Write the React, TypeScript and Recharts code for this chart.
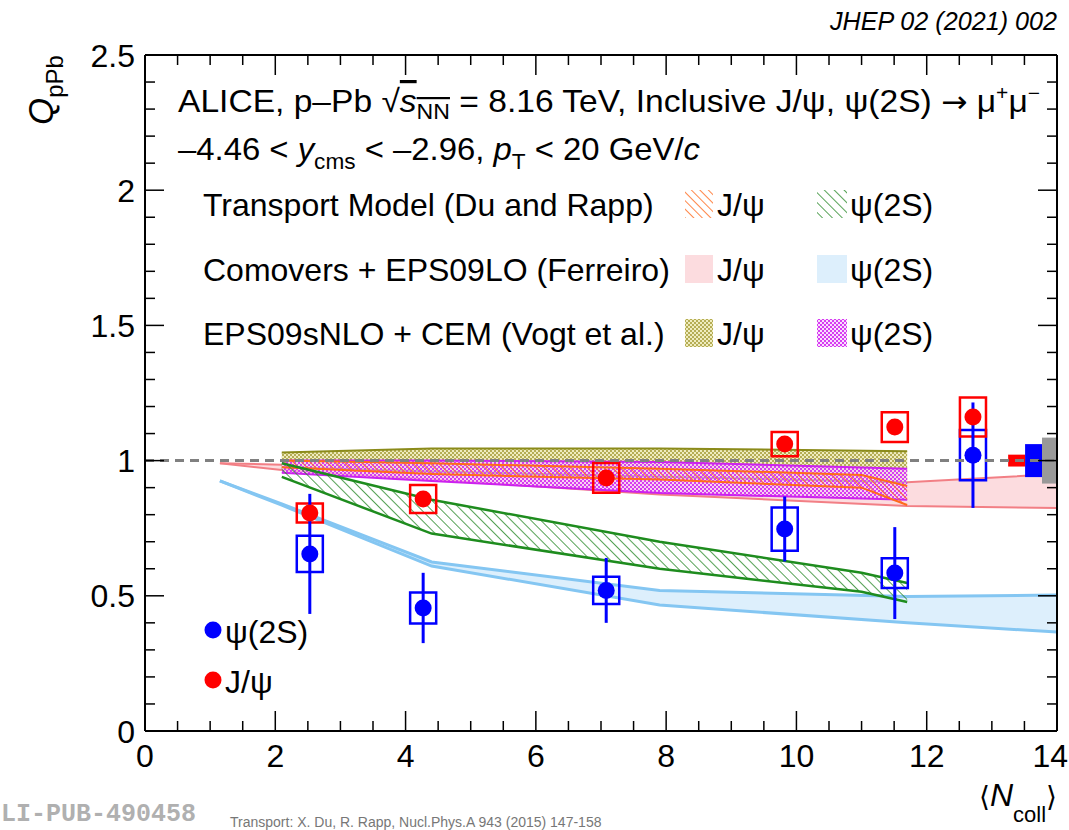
import React from 'react';
import { ComposedChart, Area, Scatter, XAxis, YAxis, ErrorBar, ReferenceArea, ReferenceLine } from 'recharts';

const FONT = '"Liberation Sans", Arial, Helvetica, sans-serif';

// measured Q_pPb vs <Ncoll>
const NCOLL = [2.53, 4.27, 7.08, 9.82, 11.51, 12.71];
const JPSI_Q = [0.806, 0.858, 0.936, 1.061, 1.124, 1.161];
const JPSI_STAT = [0.015, 0.02, 0.02, 0.025, 0.025, 0.03];
const JPSI_SYST = [0.035, 0.052, 0.055, 0.045, 0.055, 0.072];
const PSI_Q = [0.655, 0.455, 0.52, 0.747, 0.584, 1.02];
const PSI_STAT = [0.222, 0.13, 0.12, 0.12, 0.17, 0.195];
const PSI_SYST = [0.067, 0.057, 0.05, 0.08, 0.055, 0.093];
const BOX_HALF = 0.2;

// global uncertainty boxes around Q=1
const GLOBAL_X1 = [13.25, 13.51, 13.77];
const GLOBAL_X2 = [13.51, 13.77, 14];
const GLOBAL_ERR = [0.022, 0.061, 0.085];
const GLOBAL_COLORS = ['#ff0000', '#0000ff', '#999999'];

// models
const COMOV_X = [1.15, 2.1, 4.4, 7.9, 11.7, 14];
const COMOV_JPSI_HI = [0.99, 0.985, 0.97, 0.95, 0.92, 0.95];
const COMOV_JPSI_LO = [0.99, 0.965, 0.93, 0.875, 0.832, 0.825];
const COMOV_PSI_HI = [0.925, 0.84, 0.625, 0.52, 0.497, 0.503];
const COMOV_PSI_LO = [0.925, 0.835, 0.61, 0.466, 0.4, 0.366];

const TRANS_X = [2.1, 4.4, 7.9, 11.0, 11.7];
const TRANS_JPSI_HI = [1.0, 0.99, 0.97, 0.947, 0.906];
const TRANS_JPSI_LO = [0.975, 0.95, 0.93, 0.9, 0.836];
const TRANS_PSI_HI = [0.99, 0.855, 0.7, 0.585, 0.547];
const TRANS_PSI_LO = [0.94, 0.73, 0.6, 0.515, 0.477];

const VOGT_X = [2.1, 4.4, 7.9, 11.7];
const VOGT_JPSI_HI = [1.03, 1.045, 1.045, 1.035];
const VOGT_JPSI_LO = [0.975, 0.96, 0.94, 0.92];
const VOGT_PSI_HI = [1.0, 1.0, 0.995, 0.97];
const VOGT_PSI_LO = [0.955, 0.925, 0.88, 0.855];

const X_TICKS = Array.from({ length: 29 }, (_, i) => i * 0.5);
const Y_TICKS = Array.from({ length: 26 }, (_, i) => i / 10);

const band = (xs: number[], lo: number[], hi: number[]) => xs.map((x, i) => ({ x, band: [lo[i], hi[i]] }));
const points = (q: number[], stat: number[]) => NCOLL.map((x, i) => ({ x, y: q[i], stat: stat[i] }));

const isMajor = (v: number, step: number) => Math.abs(v / step - Math.round(v / step)) < 1e-6;

function BottomTick({ x, y, payload }: any) {
  const major = isMajor(payload.value, 2);
  const last = payload.value === 14;
  return (
    <g>
      <line x1={x} x2={x} y1={y} y2={y - (major ? 20 : 10)} stroke="#000" strokeWidth={1.5} />
      {major && (
        <text x={last ? x + 11 : x} y={y + 36} textAnchor={last ? 'end' : 'middle'} fontSize={32} fontFamily={FONT} fill="#000">
          {payload.value}
        </text>
      )}
    </g>
  );
}

function TopTick({ x, y, payload }: any) {
  const major = isMajor(payload.value, 2);
  return <line x1={x} x2={x} y1={y} y2={y + (major ? 20 : 10)} stroke="#000" strokeWidth={1.5} />;
}

function LeftTick({ x, y, payload }: any) {
  const major = isMajor(payload.value, 0.5);
  return (
    <g>
      <line x1={x} x2={x + (major ? 19 : 10)} y1={y} y2={y} stroke="#000" strokeWidth={1.5} />
      {major && (
        <text x={x - 10} y={y + 11.5} textAnchor="end" fontSize={32} fontFamily={FONT} fill="#000">
          {payload.value}
        </text>
      )}
    </g>
  );
}

function RightTick({ x, y, payload }: any) {
  const major = isMajor(payload.value, 0.5);
  return <line x1={x} x2={x - (major ? 19 : 10)} y1={y} y2={y} stroke="#000" strokeWidth={1.5} />;
}

const dot = (color: string) => (p: any) => <circle cx={p.cx} cy={p.cy} r={8.5} fill={color} />;

function Patterns({ suffix }: { suffix: string }) {
  return (
    <defs>
      <pattern id={`hatchGreen${suffix}`} patternUnits="userSpaceOnUse" width="7" height="7" patternTransform="rotate(-45)">
        <line x1="0" y1="0" x2="0" y2="7" stroke="#2a8a2a" strokeWidth="1.6" />
      </pattern>
      <pattern id={`hatchOrange${suffix}`} patternUnits="userSpaceOnUse" width="6" height="6" patternTransform="rotate(-45)">
        <line x1="0" y1="0" x2="0" y2="6" stroke="#ff7026" strokeWidth="1.7" />
      </pattern>
      <pattern id={`checkOlive${suffix}`} patternUnits="userSpaceOnUse" width="4" height="4">
        <rect x="0" y="0" width="4" height="4" fill="#efecbe" />
        <rect x="0" y="0" width="2" height="2" fill="#b5ad55" />
        <rect x="2" y="2" width="2" height="2" fill="#b5ad55" />
      </pattern>
      <pattern id={`checkMagenta${suffix}`} patternUnits="userSpaceOnUse" width="4" height="4">
        <rect x="0" y="0" width="4" height="4" fill="#f6c8fb" fillOpacity="0.6" />
        <rect x="0" y="0" width="2" height="2" fill="#d63cf2" />
        <rect x="2" y="2" width="2" height="2" fill="#d63cf2" />
      </pattern>
    </defs>
  );
}

function Overlay() {
  const legendRows = [
    { label: 'Transport Model (Du and Rapp)', y: 216, a: 'url(#hatchOrange-lg)', b: 'url(#hatchGreen-lg)' },
    { label: 'Comovers + EPS09LO (Ferreiro)', y: 281, a: '#fcdcdf', b: '#ddeffc' },
    { label: 'EPS09sNLO + CEM (Vogt et al.)', y: 345, a: 'url(#checkOlive-lg)', b: 'url(#checkMagenta-lg)' },
  ];
  return (
    <svg width={1069} height={830} style={{ position: 'absolute', left: 0, top: 0, pointerEvents: 'none' }} fontFamily={FONT}>
      <Patterns suffix="-lg" />
      <text x={1057} y={30} textAnchor="end" fontSize={26} fontStyle="italic" fill="#000" textLength={227} lengthAdjust="spacingAndGlyphs">
        JHEP 02 (2021) 002
      </text>
      <text transform="translate(53,125) rotate(-90)" fontSize={35} fill="#000">
        <tspan fontStyle="italic">Q</tspan>
        <tspan fontSize={24} dy={10}>pPb</tspan>
      </text>
      <text x={178} y={112} fontSize={32} fill="#000" textLength={862} lengthAdjust="spacingAndGlyphs">
        ALICE, p–Pb √<tspan fontStyle="italic" style={{ textDecoration: 'overline' }}>s</tspan>
        <tspan fontSize={22} dy={7} style={{ textDecoration: 'overline' }}>NN</tspan>
        <tspan dy={-7}> = 8.16 TeV, Inclusive J/ψ, ψ(2S) </tspan>
        <tspan fontFamily='"DejaVu Sans", sans-serif' fontSize={30}>→</tspan>
        <tspan> μ</tspan>
        <tspan fontSize={20} dy={-12}>+</tspan>
        <tspan dy={12}>μ</tspan>
        <tspan fontSize={20} dy={-12}>−</tspan>
      </text>
      <text x={178} y={160} fontSize={32} fill="#000" textLength={522} lengthAdjust="spacingAndGlyphs">
        –4.46 &lt; <tspan fontStyle="italic">y</tspan>
        <tspan fontSize={22} dy={9}>cms</tspan>
        <tspan dy={-9}> &lt; –2.96, </tspan>
        <tspan fontStyle="italic">p</tspan>
        <tspan fontSize={22} dy={9}>T</tspan>
        <tspan dy={-9}> &lt; 20 GeV/</tspan>
        <tspan fontStyle="italic">c</tspan>
      </text>
      {legendRows.map((r) => (
        <g key={r.label}>
          <text x={203} y={r.y} fontSize={32} fill="#000">{r.label}</text>
          <rect x={685} y={r.y - 26} width={28} height={28} fill={r.a} />
          <text x={717} y={r.y} fontSize={32} fill="#000">J/ψ</text>
          <rect x={817} y={r.y - 26} width={30} height={28} fill={r.b} />
          <text x={850} y={r.y} fontSize={32} fill="#000">ψ(2S)</text>
        </g>
      ))}
      <circle cx={213} cy={630} r={8.5} fill="#0000ff" />
      <text x={225} y={643} fontSize={32} fill="#000">ψ(2S)</text>
      <circle cx={213} cy={680} r={8.5} fill="#ff0000" />
      <text x={225} y={693} fontSize={32} fill="#000">J/ψ</text>
      <text x={1057} y={806} textAnchor="end" fontSize={32} fill="#000">
        <tspan fontFamily='"DejaVu Sans", sans-serif' fontSize={28}>⟨</tspan>
        <tspan fontStyle="italic">N</tspan>
        <tspan fontSize={22} dy={16}>coll</tspan>
        <tspan dy={-16} fontFamily='"DejaVu Sans", sans-serif' fontSize={28}>⟩</tspan>
      </text>
      <text x={1} y={821} fontSize={25} fontWeight="bold" fontFamily='"Liberation Mono", "Courier New", monospace' fill="#b0b0b0">
        LI-PUB-490458
      </text>
      <text x={230} y={827} fontSize={14} fill="#777">
        Transport: X. Du, R. Rapp, Nucl.Phys.A 943 (2015) 147-158
      </text>
    </svg>
  );
}

export default function App() {
  return (
    <div style={{ position: 'absolute', left: 0, top: 0, width: 1069, height: 830, background: '#fff', overflow: 'hidden' }}>
      <ComposedChart width={1069} height={830} margin={{ top: 54, right: 11, bottom: 98, left: 144 }}>
        <Patterns suffix="" />
        <XAxis
          dataKey="x"
          type="number"
          domain={[0, 14]}
          allowDataOverflow
          ticks={X_TICKS}
          interval={0}
          height={1}
          tickSize={0}
          tickMargin={0}
          tickLine={false}
          axisLine={{ stroke: '#000', strokeWidth: 2 }}
          tick={<BottomTick />}
        />
        <XAxis
          xAxisId="top"
          orientation="top"
          dataKey="x"
          type="number"
          domain={[0, 14]}
          allowDataOverflow
          ticks={X_TICKS}
          interval={0}
          height={1}
          tickSize={0}
          tickMargin={0}
          tickLine={false}
          axisLine={{ stroke: '#000', strokeWidth: 2 }}
          tick={<TopTick />}
        />
        <YAxis
          dataKey="y"
          type="number"
          domain={[0, 2.5]}
          allowDataOverflow
          ticks={Y_TICKS}
          interval={0}
          width={1}
          tickSize={0}
          tickMargin={0}
          tickLine={false}
          axisLine={{ stroke: '#000', strokeWidth: 2 }}
          tick={<LeftTick />}
        />
        <YAxis
          yAxisId="right"
          orientation="right"
          type="number"
          domain={[0, 2.5]}
          allowDataOverflow
          ticks={Y_TICKS}
          interval={0}
          width={1}
          tickSize={0}
          tickMargin={0}
          tickLine={false}
          axisLine={{ stroke: '#000', strokeWidth: 2 }}
          tick={<RightTick />}
        />

        <Area data={band(COMOV_X, COMOV_PSI_LO, COMOV_PSI_HI)} dataKey="band" type="linear" fill="#ddeffc" fillOpacity={1} stroke="#84c6f2" strokeWidth={3} isAnimationActive={false} />
        <Area data={band(COMOV_X, COMOV_JPSI_LO, COMOV_JPSI_HI)} dataKey="band" type="linear" fill="#fcdcdf" fillOpacity={1} stroke="#f27f85" strokeWidth={2} isAnimationActive={false} />
        <Area data={band(VOGT_X, VOGT_JPSI_LO, VOGT_JPSI_HI)} dataKey="band" type="linear" fill="url(#checkOlive)" fillOpacity={1} stroke="#8b8b1a" strokeWidth={2} isAnimationActive={false} />
        <Area data={band(VOGT_X, VOGT_PSI_LO, VOGT_PSI_HI)} dataKey="band" type="linear" fill="url(#checkMagenta)" fillOpacity={1} stroke="#cc22ee" strokeWidth={2} isAnimationActive={false} />
        <Area data={band(TRANS_X, TRANS_JPSI_LO, TRANS_JPSI_HI)} dataKey="band" type="linear" fill="url(#hatchOrange)" fillOpacity={1} stroke="#ff6a1a" strokeWidth={2} isAnimationActive={false} />
        <Area data={band(TRANS_X, TRANS_PSI_LO, TRANS_PSI_HI)} dataKey="band" type="linear" fill="url(#hatchGreen)" fillOpacity={1} stroke="#1e8c1e" strokeWidth={2.5} isAnimationActive={false} />

        <ReferenceLine y={1} stroke="#808080" strokeWidth={3} strokeDasharray="9 6" ifOverflow="visible" />

        {GLOBAL_X1.map((x1, i) => (
          <ReferenceArea key={`g${i}`} x1={x1} x2={GLOBAL_X2[i]} y1={1 - GLOBAL_ERR[i]} y2={1 + GLOBAL_ERR[i]} fill={GLOBAL_COLORS[i]} fillOpacity={1} stroke="none" ifOverflow="visible" />
        ))}

        {NCOLL.map((x, i) => (
          <ReferenceArea key={`ps${i}`} x1={x - BOX_HALF} x2={x + BOX_HALF} y1={PSI_Q[i] - PSI_SYST[i]} y2={PSI_Q[i] + PSI_SYST[i]} fill="none" fillOpacity={0} stroke="#0000ff" strokeWidth={2.5} ifOverflow="visible" />
        ))}
        {NCOLL.map((x, i) => (
          <ReferenceArea key={`js${i}`} x1={x - BOX_HALF} x2={x + BOX_HALF} y1={JPSI_Q[i] - JPSI_SYST[i]} y2={JPSI_Q[i] + JPSI_SYST[i]} fill="none" fillOpacity={0} stroke="#ff0000" strokeWidth={2.5} ifOverflow="visible" />
        ))}

        <Scatter data={points(JPSI_Q, JPSI_STAT)} fill="#ff0000" shape={dot('#ff0000')} isAnimationActive={false}>
          <ErrorBar dataKey="stat" direction="y" width={0} stroke="#ff0000" strokeWidth={3} />
        </Scatter>
        <Scatter data={points(PSI_Q, PSI_STAT)} fill="#0000ff" shape={dot('#0000ff')} isAnimationActive={false}>
          <ErrorBar dataKey="stat" direction="y" width={0} stroke="#0000ff" strokeWidth={3} />
        </Scatter>
      </ComposedChart>
      <Overlay />
    </div>
  );
}
